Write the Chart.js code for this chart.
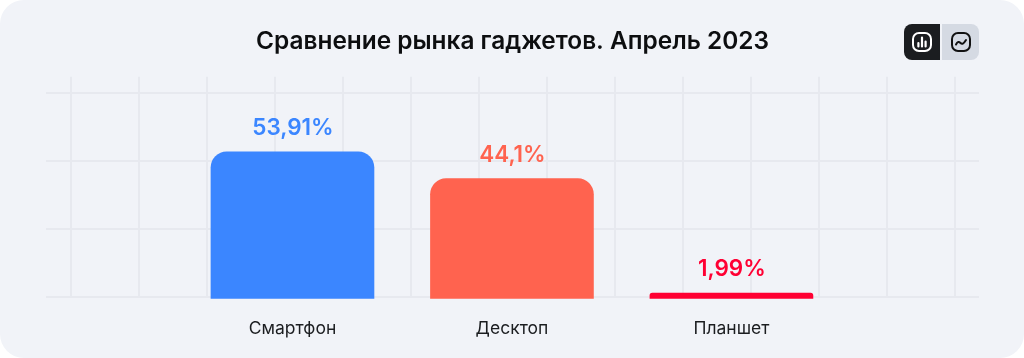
<!DOCTYPE html>
<html lang="ru">
<head>
<meta charset="utf-8">
<title>Сравнение рынка гаджетов</title>
<script src="https://cdn.jsdelivr.net/npm/chart.js@4"></script>
<style>
  html, body { margin: 0; padding: 0; background: #fff; }
  .card { position: relative; width: 1024px; height: 358px; background: #f1f3f8; border-radius: 24px; overflow: hidden; }
  canvas { position: absolute; left: 0; top: 0; }
  .toggle { position: absolute; top: 24px; height: 36px; display: flex; align-items: center; justify-content: center; }
  .toggle.bar { left: 904px; width: 36px; background: #1b1d20; border-radius: 8px 0 0 8px; color: #fff; }
  .toggle.line { left: 942px; width: 37px; background: #d5dae3; border-radius: 0 8px 8px 0; color: #111; }
</style>
</head>
<body>
<div class="card">
  <canvas id="chart" width="1024" height="358"></canvas>
  <div class="toggle bar">
    <svg width="20" height="20" viewBox="0 0 20 20" fill="none" stroke="currentColor" stroke-width="2" stroke-linecap="round">
      <rect x="1" y="1" width="18" height="18" rx="6"/>
      <path d="M6.4 14.5V11M10 14.5V5.5M13.6 14.5V9.5" stroke-width="2.2"/>
    </svg>
  </div>
  <div class="toggle line">
    <svg width="20" height="20" viewBox="0 0 20 20" fill="none" stroke="currentColor" stroke-width="2" stroke-linecap="round" stroke-linejoin="round">
      <rect x="1" y="1" width="18" height="18" rx="6"/>
      <path d="M5 12.5C6.5 9.5 8 9.5 9.5 11S12.5 12 15 8"/>
    </svg>
  </div>
</div>
<script>
const titleText = "Сравнение рынка гаджетов. Апрель 2023";
const categories = ["Смартфон", "Десктоп", "Планшет"];
const values = [53.91, 44.1, 1.99];
const valueLabels = ["53,91%", "44,1%", "1,99%"];
const barColors = ["#3b86ff", "#ff634f", "#ff0033"];

const gridColor = "#e7e9ef";
const fontFamily = "Inter, sans-serif";

// value labels above the bars
const barLabels = {
  id: "barLabels",
  afterDatasetsDraw(chart) {
    const { ctx } = chart;
    const bars = chart.getDatasetMeta(0).data;
    ctx.save();
    ctx.font = `600 22.5px ${fontFamily}`;
    ctx.textAlign = "center";
    ctx.textBaseline = "alphabetic";
    bars.forEach((bar, i) => {
      ctx.fillStyle = barColors[i];
      ctx.fillText(valueLabels[i], bar.x + 0.5, bar.y - 17);
    });
    ctx.restore();
  },
};

new Chart(document.getElementById("chart"), {
  type: "bar",
  data: {
    datasets: [
      {
        data: values.map((y, i) => ({ x: i + 1, y })),
        backgroundColor: barColors,
        barThickness: 163,
        base: 0,
        borderRadius: { topLeft: 16, topRight: 16 },
        clip: false,
      },
    ],
  },
  options: {
    responsive: false,
    animation: false,
    layout: { padding: { left: 46, right: 45, top: 0, bottom: 0 } },
    plugins: {
      legend: { display: false },
      tooltip: { enabled: false },
      title: {
        display: true,
        text: titleText,
        color: "#0d0e10",
        font: { family: fontFamily, size: 24.4, weight: "600" },
        padding: { top: 27, bottom: 20.5 },
      },
    },
    scales: {
      x: {
        type: "linear",
        min: -0.123,
        max: 4.128,
        offset: false,
        grid: {
          offset: false,
          drawTicks: false,
          lineWidth: 2,
          color: (ctx) => (Number.isInteger(ctx.tick.value) ? "transparent" : gridColor),
        },
        border: { display: false },
        ticks: {
          autoSkip: false,
          maxRotation: 0,
          padding: 21,
          color: "#1b1d20",
          font: { family: fontFamily, size: 17.5 },
          callback: (value) => categories[value - 1] ?? "",
        },
        afterBuildTicks(scale) {
          const ticks = categories.map((c, i) => ({ value: i + 1 }));
          for (let k = 0; k < 14; k++) ticks.push({ value: -0.0091 + k * 0.3098 });
          scale.ticks = ticks.sort((a, b) => a.value - b.value);
        },
        afterFit(scale) {
          scale.height = 61;
        },
      },
      y: {
        min: 0.55,
        max: 81.5,
        grid: { drawTicks: false, lineWidth: 2, color: gridColor },
        border: { display: false },
        ticks: { display: false },
        afterBuildTicks(scale) {
          scale.ticks = [0.55, 25.55, 50.55, 75.55].map((value) => ({ value }));
        },
        afterFit(scale) {
          scale.width = 0;
        },
      },
    },
  },
  plugins: [barLabels],
});
</script>
</body>
</html>
